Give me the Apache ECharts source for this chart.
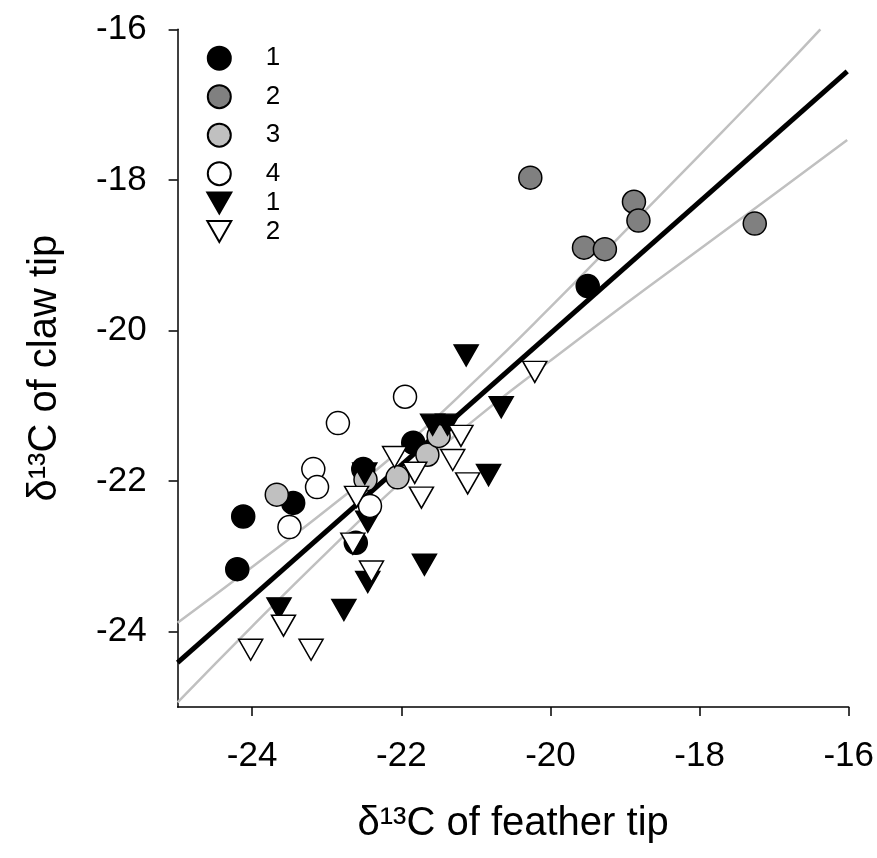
<!DOCTYPE html>
<html><head><meta charset="utf-8">
<script src="https://cdn.jsdelivr.net/npm/echarts@6/dist/echarts.min.js"></script>
<style>html,body{margin:0;padding:0;background:#fff}#c{width:877px;height:858px}</style>
</head><body><div id="c"></div>
<script>
// ---- data ----
const xTicks = [-24, -22, -20, -18, -16];
const yTicks = [-24, -22, -20, -18, -16];
const xTitle = 'δ¹³C of feather tip';
const yTitle = 'δ¹³C of claw tip';
const seriesNames = ['c1', 'c2', 'c3', 'c4', 't1', 't2'];
const legendLabels = ['1', '2', '3', '4', '1', '2'];

const circle1 = [[-24.12,-22.47],[-24.20,-23.17],[-23.45,-22.29],[-22.61,-22.82],[-22.51,-21.84],[-21.84,-21.49],[-19.50,-19.41]];
const circle2 = [[-20.27,-17.97],[-18.88,-18.29],[-18.82,-18.54],[-19.55,-18.90],[-19.27,-18.92],[-17.26,-18.58]];
const circle3 = [[-23.67,-22.18],[-22.48,-21.98],[-22.05,-21.95],[-21.65,-21.65],[-21.50,-21.40]];
const circle4 = [[-21.95,-20.88],[-22.85,-21.23],[-23.18,-21.84],[-23.13,-22.08],[-23.50,-22.61],[-22.42,-22.33]];
const tri1 = [[-21.13,-20.33],[-20.66,-21.02],[-21.58,-21.25],[-21.38,-21.25],[-20.83,-21.92],[-22.49,-21.90],[-22.45,-22.54],[-21.69,-23.11],[-22.45,-23.34],[-22.77,-23.71],[-23.64,-23.69]];
const tri2 = [[-20.21,-20.55],[-21.20,-21.40],[-22.09,-21.68],[-21.31,-21.72],[-21.82,-21.89],[-21.11,-22.03],[-21.73,-22.22],[-22.60,-22.21],[-22.65,-22.83],[-22.40,-23.20],[-23.58,-23.92],[-24.02,-24.24],[-23.21,-24.24]];

const fitX = [-25, -16.02];
const fitY = [-24.41, -16.56];
const upperX = [-25, -24, -23, -22, -21, -20, -19, -18, -17, -16.38];
const upperY = [-23.88, -23.14, -22.38, -21.57, -20.66, -19.69, -18.68, -17.67, -16.65, -16.00];
const lowerX = [-25, -24, -23, -22, -21, -20, -19, -18, -17, -16.02];
const lowerY = [-24.94, -23.93, -22.95, -22.01, -21.17, -20.40, -19.65, -18.92, -18.19, -17.47];

// ---- chart ----
const FONT = 'Liberation Sans';
const zip = (a, b) => a.map((v, i) => [v, b[i]]);
const triPath = 'path://M0,0L24,0L12,21Z';
const labelOf = n => legendLabels[seriesNames.indexOf(n)];

function scatter(name, data, symbol, size, color) {
  return {
    name, type: 'scatter', data, symbol, symbolSize: size, z: 5,
    itemStyle: { color, borderColor: '#000', borderWidth: 1.5, opacity: 1 },
    emphasis: { disabled: true }
  };
}
function line(x, y, color, width, smooth) {
  return {
    type: 'line', data: zip(x, y), showSymbol: false, symbol: 'none', smooth, z: 2,
    lineStyle: { color, width }, silent: true, emphasis: { disabled: true }
  };
}
function legendText(padLeft) {
  return { fontSize: 26, fontFamily: FONT, color: '#000', padding: [0, 0, 0, padLeft] };
}

const legendBase = { orient: 'vertical', padding: 0, selectedMode: false, formatter: labelOf };

const chart = echarts.init(document.getElementById('c'), null, { renderer: 'canvas' });
chart.setOption({
  animation: false,
  backgroundColor: '#fff',
  grid: { left: 177.6, right: 27, top: 29.3, bottom: 151 },
  xAxis: {
    type: 'value', min: -25, max: -16,
    name: xTitle, nameLocation: 'middle', nameGap: 97,
    nameTextStyle: { fontSize: 40, fontFamily: FONT, color: '#000' },
    axisLine: { show: true, onZero: false, lineStyle: { color: '#000', width: 1.5 } },
    axisTick: { show: true, length: 9, customValues: xTicks, lineStyle: { color: '#000', width: 1.5 } },
    axisLabel: { customValues: xTicks, margin: 32, fontSize: 35, fontFamily: FONT, color: '#000' },
    splitLine: { show: false }
  },
  yAxis: {
    type: 'value', min: -25, max: -16,
    name: yTitle, nameLocation: 'middle', nameGap: 113, nameRotate: 90,
    nameTextStyle: { fontSize: 40, fontFamily: FONT, color: '#000' },
    axisLine: { show: true, onZero: false, lineStyle: { color: '#000', width: 1.5 } },
    axisTick: { show: true, length: 9, customValues: yTicks, lineStyle: { color: '#000', width: 1.5 } },
    axisLabel: { customValues: yTicks, margin: 31, fontSize: 35, fontFamily: FONT, color: '#000' },
    splitLine: { show: false }
  },
  legend: [
    Object.assign({}, legendBase, { data: ['c1', 'c2', 'c3', 'c4'], left: 206.8, top: 45.2,
      itemWidth: 23, itemHeight: 23, itemGap: 12.5, textStyle: legendText(30) }),
    Object.assign({}, legendBase, { data: ['t1'], left: 206.3, top: 190,
      itemWidth: 24, itemHeight: 21, textStyle: legendText(29.4) }),
    Object.assign({}, legendBase, { data: ['t2'], left: 206.3, top: 218.5,
      itemWidth: 24, itemHeight: 21, textStyle: legendText(29.4) })
  ],
  series: [
    line(upperX, upperY, '#c0c0c0', 2.5, true),
    line(lowerX, lowerY, '#c0c0c0', 2.5, true),
    line(fitX, fitY, '#000', 5, false),
    scatter('c1', circle1, 'circle', 23, '#000'),
    scatter('c2', circle2, 'circle', 23, '#808080'),
    scatter('c3', circle3, 'circle', 23, '#c0c0c0'),
    scatter('t1', tri1, triPath, [24, 21], '#000'),
    scatter('c4', circle4, 'circle', 23, '#fff'),
    scatter('t2', tri2, triPath, [24, 21], '#fff')
  ]
});
</script></body></html>
